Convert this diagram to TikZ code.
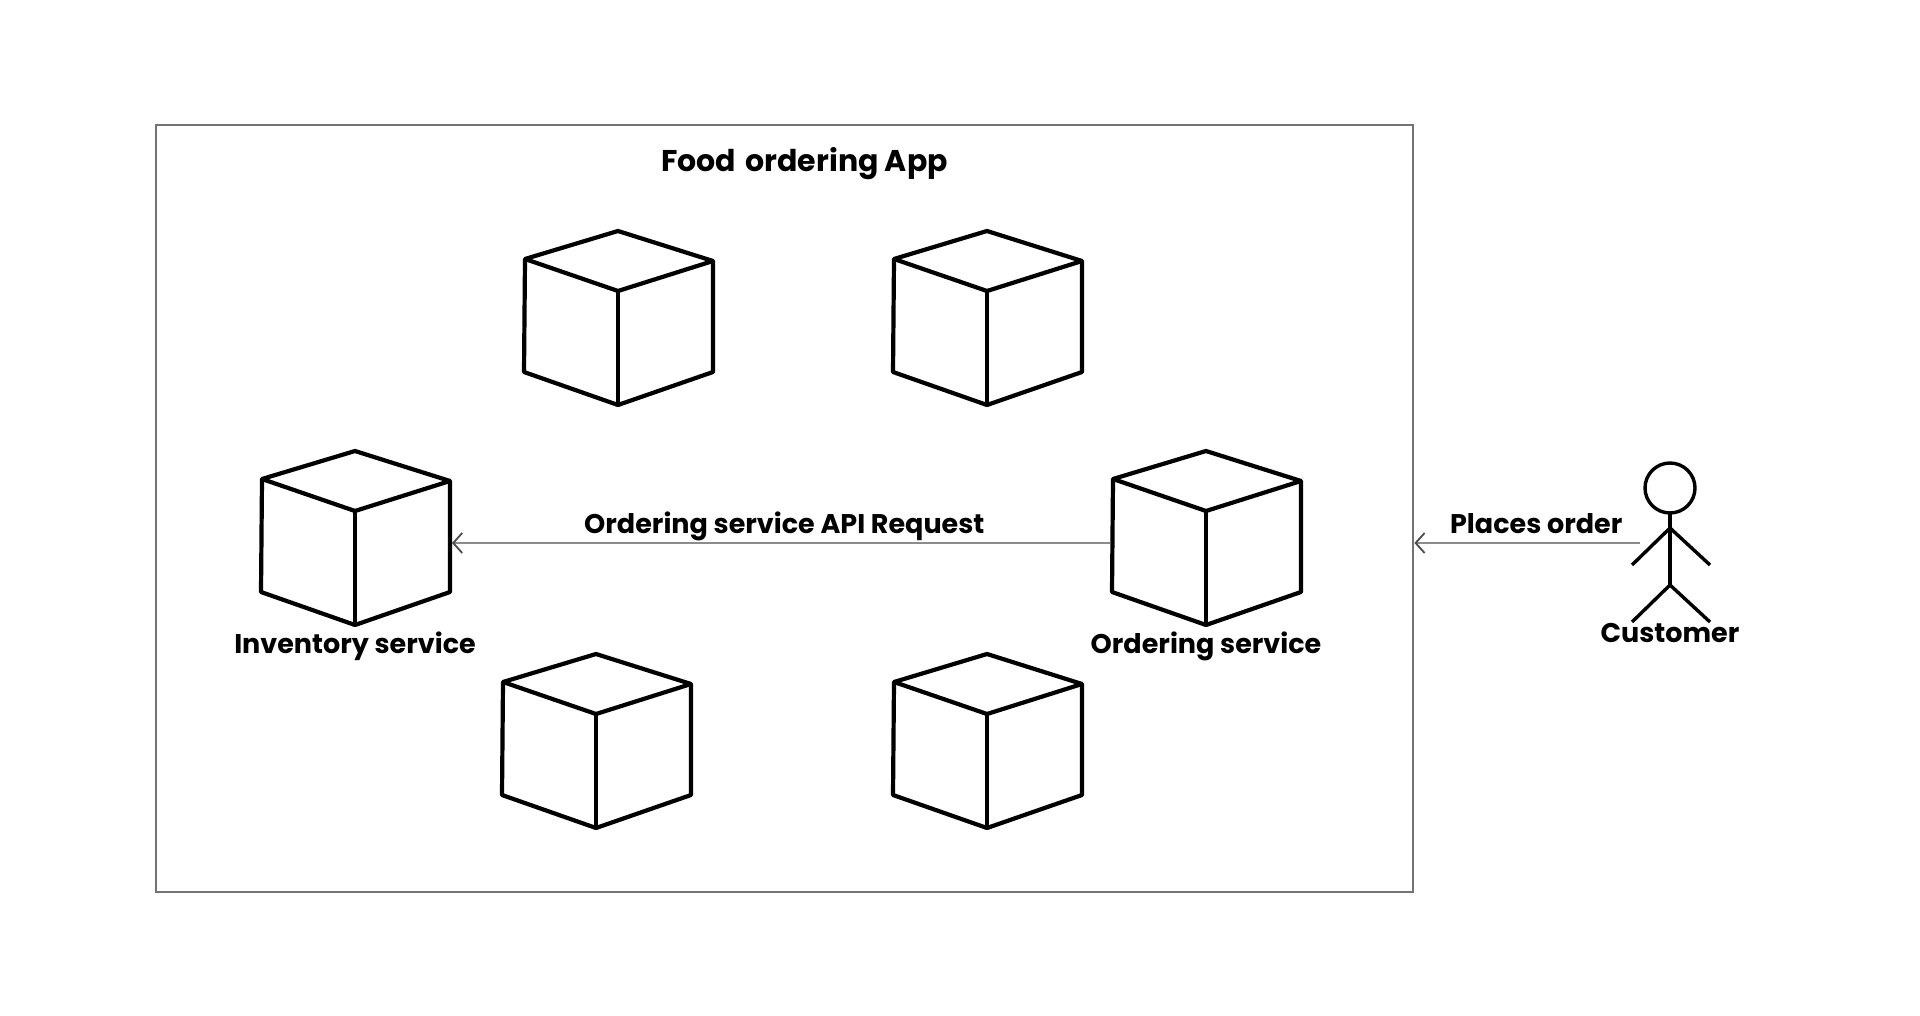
\documentclass[tikz,border=0pt]{standalone}
\usepackage{fontspec}
\setmainfont{Poppins}
\usetikzlibrary{arrows.meta}

\tikzset{
	label text/.style={font=\fontsize{27}{32}\selectfont\bfseries,inner sep=0pt},
	flow/.style={draw=black!45,line width=2.5pt,-{Straight Barb[length=9pt,width=20pt,line width=1.8pt,color=black!70]}},
	cube/.pic={
		\draw[line width=4.2pt,line join=round] (0,1) -- (95,31) -- (0,61) -- (-93,29) -- cycle;
		\draw[line width=4.2pt,line join=round] (-93,29) -- (-94,142) -- (0,175) -- (95,142) -- (95,31);
		\draw[line width=4.2pt] (0,61) -- (0,175);
		\coordinate (-west) at (-96,93);
		\coordinate (-east) at (97,93);
	}
}

\begin{document}
\begin{tikzpicture}[x=1pt,y=-1pt]
	\useasboundingbox (0,0) rectangle (1920,1016);

	% The box that stands for the application
	\node[draw=black!55,line width=2.4pt,minimum width=1257pt,minimum height=767pt,inner sep=0pt,anchor=north west] (app) at (155,124) {};
	\node[label text,font=\fontsize{30}{36}\selectfont\bfseries] (title) at (804.5,164) {Food\hspace{3pt} ordering App};

	% The services
	\pic (topleft) at (618,230) {cube};
	\pic (topright) at (987,230) {cube};
	\pic (inventory) at (355,450) {cube};
	\pic (ordering) at (1206,450) {cube};
	\pic (bottomleft) at (596,653) {cube};
	\pic (bottomright) at (987,653) {cube};

	\node[label text] (inventorylabel) at (355,646) {Inventory service};
	\node[label text] (orderinglabel) at (1206,646) {Ordering service};

	% The customer
	\draw[line width=3.4pt] (1670,488) circle (25pt);
	\draw[line width=3.4pt] (1670,513) -- (1670,585);
	\draw[line width=3.4pt] (1632,565) -- (1670,528) -- (1710,565);
	\draw[line width=3.4pt] (1632,622) -- (1670,585) -- (1710,622);
	\coordinate (customer) at (1640,543);
	\node[label text] (customerlabel) at (1670,633) {Customer};

	% The requests
	\draw[flow] (ordering-west) -- node[label text,above=1pt,pos=.495] (apilabel) {Ordering service API Request} (inventory-east);
	\draw[flow] (customer) -- node[label text,above=8pt,pos=.46] (placeslabel) {Places order} (app.east |- customer);
\end{tikzpicture}
\end{document}
